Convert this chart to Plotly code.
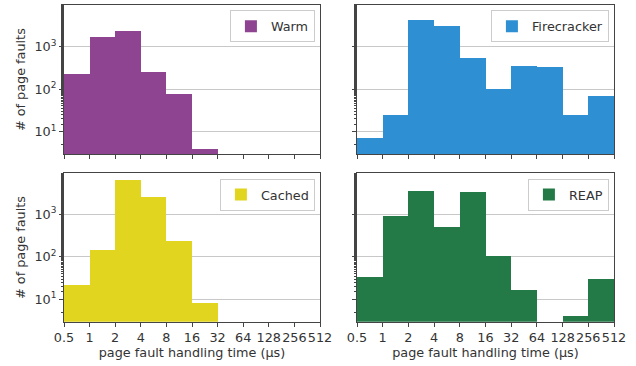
import plotly.graph_objects as go

bin_labels = ["0.5", "1", "2", "4", "8", "16", "32", "64", "128", "256", "512"]
warm = [227, 1690, 2350, 253, 77, 4, 0, 0, 0, 0]
firecracker = [7, 24.5, 4270, 3080, 541, 100, 351, 332, 24.5, 69]
cached = [21.7, 145, 6430, 2560, 236, 8.2, 0, 0, 0, 0]
reap = [33.5, 915, 3540, 485, 3350, 104, 16.6, 0, 4, 30]

series = [("Warm", warm, "#8E4490"), ("Firecracker", firecracker, "#2E90D2"),
          ("Cached", cached, "#E2D51F"), ("REAP", reap, "#237A47")]

centers = [i + 0.5 for i in range(len(bin_labels) - 1)]

W, H = 636, 366
def px_dom_x(a, b): return [a / W, b / W]
def px_dom_y(top, bot): return [1 - bot / H, 1 - top / H]

xdoms = [px_dom_x(64, 320), px_dom_x(357, 614)]
ydoms = [px_dom_y(5, 154.3), px_dom_y(173.3, 321.7)]

fig = go.Figure()
font_color = "#333333"
line_color = "#444444"
fs = 12.8

for k, (name, vals, color) in enumerate(series):
    r, c = divmod(k, 2)
    ax = "" if k == 0 else str(k + 1)
    ys = [v if v > 0 else None for v in vals]
    fig.add_trace(go.Bar(x=centers, y=ys, width=1.0, name=name,
                         marker=dict(color=color, line=dict(width=0)),
                         xaxis="x" + ax, yaxis="y" + ax,
                         legend="legend" if k == 0 else "legend" + str(k + 1),
                         showlegend=True))
    xa = dict(domain=xdoms[c], range=[0, 10], anchor="y" + ax,
              tickvals=list(range(11)),
              ticktext=bin_labels,
              showticklabels=(r == 1),
              tickangle=0,
              ticks="outside", ticklen=4, tickcolor=line_color,
              showline=True, linecolor=line_color, linewidth=1, mirror=True,
              showgrid=False, zeroline=False, automargin=False,
              tickfont=dict(size=fs, color=font_color))
    if r == 1:
        xa["title"] = dict(text="page fault handling time (μs)", standoff=3,
                           font=dict(size=fs, color=font_color))
    ya = dict(domain=ydoms[r], type="log",
              range=[0.467, 3.975] if r == 0 else [0.473, 3.965],
              anchor="x" + ax,
              tickvals=[10, 100, 1000],
              ticktext=["10<sup>1</sup>", "10<sup>2</sup>", "10<sup>3</sup>"],
              showticklabels=(c == 0),
              ticks="outside", ticklen=4, tickcolor=line_color,
              minor=dict(ticks="outside", ticklen=2, tickcolor=line_color, showgrid=False),
              showline=True, linecolor=line_color, linewidth=1, mirror=True,
              showgrid=True, gridcolor="#c8c8c8", gridwidth=1, zeroline=False,
              automargin=False,
              tickfont=dict(size=fs, color=font_color))
    if c == 0:
        ya["title"] = dict(text="# of page faults", standoff=5,
                           font=dict(size=fs, color=font_color))
    fig.layout["xaxis" + ax] = xa
    fig.layout["yaxis" + ax] = ya
    leg = dict(x=xdoms[c][1] - 0.008, y=ydoms[r][1] - 0.015, xanchor="right", yanchor="top",
               bgcolor="rgba(255,255,255,0.8)", bordercolor="#cccccc", borderwidth=1,
               font=dict(size=fs, color=font_color), itemwidth=30)
    fig.layout["legend" if k == 0 else "legend" + str(k + 1)] = leg

fig.update_layout(width=W, height=H, margin=dict(l=0, r=0, t=0, b=0),
                  paper_bgcolor="white", plot_bgcolor="white",
                  font=dict(family="DejaVu Sans", color=font_color), bargap=0)
fig.write_html("out.html")
